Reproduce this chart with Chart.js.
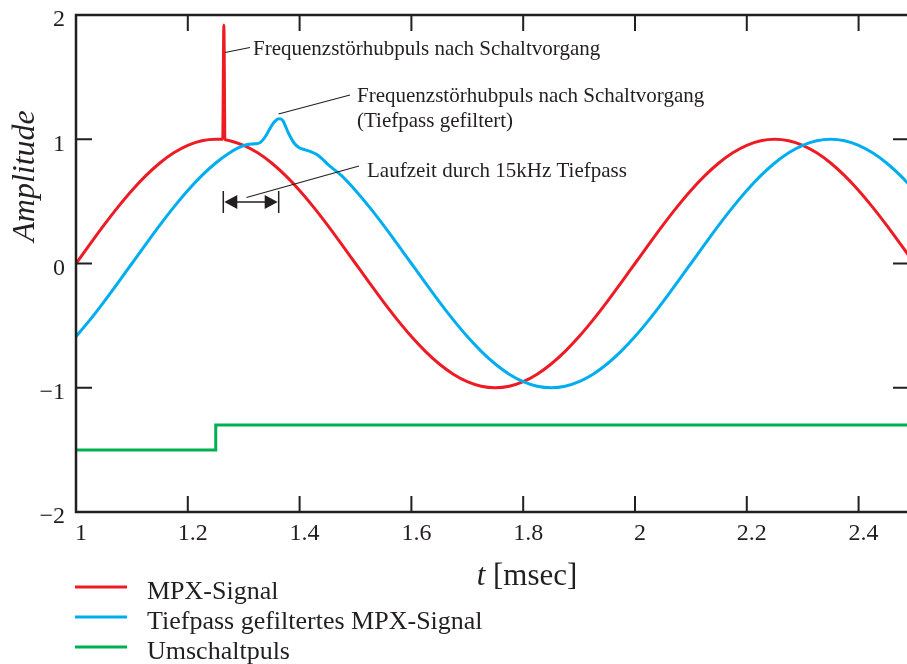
<!DOCTYPE html>
<html>
<head>
<meta charset="utf-8">
<script src="https://cdn.jsdelivr.net/npm/chart.js@4.4.1/dist/chart.umd.min.js"></script>
<style>
  html, body { margin: 0; padding: 0; background: #ffffff; }
  canvas { display: block; }
</style>
</head>
<body>
<canvas id="c" width="907" height="664"></canvas>
<script>
// ---------- data ----------
const seriesLabels = ['MPX-Signal', 'Tiefpass gefiltertes MPX-Signal', 'Umschaltpuls'];

const redT = [1.000,1.025,1.050,1.075,1.100,1.125,1.150,1.175,1.200,1.225,1.250,1.260,1.2625,1.2645,1.2665,1.269,1.275,
  1.300,1.325,1.350,1.375,1.400,1.425,1.450,1.475,1.500,1.525,1.550,1.575,1.600,1.625,1.650,1.675,1.700,1.725,1.750,
  1.775,1.800,1.825,1.850,1.875,1.900,1.925,1.950,1.975,2.000,2.025,2.050,2.075,2.100,2.125,2.150,2.175,2.200,2.225,
  2.250,2.275,2.300,2.325,2.350,2.375,2.400,2.425,2.450,2.475,2.500];
const redY = [0.000,0.156,0.309,0.454,0.588,0.707,0.809,0.891,0.951,0.988,1.000,0.999,1.000,1.920,1.000,0.993,0.988,
  0.951,0.891,0.809,0.707,0.588,0.454,0.309,0.156,0.000,-0.156,-0.309,-0.454,-0.588,-0.707,-0.809,-0.891,-0.951,-0.988,-1.000,
  -0.988,-0.951,-0.891,-0.809,-0.707,-0.588,-0.454,-0.309,-0.156,0.000,0.156,0.309,0.454,0.588,0.707,0.809,0.891,0.951,0.988,
  1.000,0.988,0.951,0.891,0.809,0.707,0.588,0.454,0.309,0.156,0.000];

const blueT = [1.000,1.025,1.050,1.075,1.100,1.125,1.150,1.175,1.200,1.225,1.250,1.275,1.290,1.300,1.310,1.320,1.330,
  1.340,1.350,1.360,1.365,1.370,1.380,1.390,1.400,1.410,1.420,1.430,1.440,1.450,1.475,1.500,1.525,1.550,1.575,1.600,
  1.625,1.650,1.675,1.700,1.725,1.750,1.775,1.800,1.825,1.850,1.875,1.900,1.925,1.950,1.975,2.000,2.025,2.050,2.075,
  2.100,2.125,2.150,2.175,2.200,2.225,2.250,2.275,2.300,2.325,2.350,2.375,2.400,2.425,2.450,2.475,2.500];
const blueY = [-0.588,-0.454,-0.309,-0.156,0.000,0.156,0.309,0.454,0.588,0.707,0.809,0.891,0.930,0.950,0.960,0.963,0.975,
  1.030,1.110,1.160,1.165,1.150,1.050,0.970,0.930,0.915,0.900,0.880,0.845,0.800,0.707,0.588,0.454,0.309,0.156,0.000,
  -0.156,-0.309,-0.454,-0.588,-0.707,-0.809,-0.891,-0.951,-0.988,-1.000,-0.988,-0.951,-0.891,-0.809,-0.707,-0.588,-0.454,-0.309,-0.156,
  0.000,0.156,0.309,0.454,0.588,0.707,0.809,0.891,0.951,0.988,1.000,0.988,0.951,0.891,0.809,0.707,0.588];

const greenT = [1.000,1.250,1.250,2.500];
const greenY = [-1.5,-1.5,-1.3,-1.3];

const xTickValues = [1,1.2,1.4,1.6,1.8,2,2.2,2.4];
const xTickLabels = ['1','1.2','1.4','1.6','1.8','2','2.2','2.4'];
const yTickValues = [-2,-1,0,1,2];
const yTickLabels = ['\u22122','\u22121','0','1','2'];

const annotationTexts = [
  'Frequenzst\u00f6rhubpuls nach Schaltvorgang',
  'Frequenzst\u00f6rhubpuls nach Schaltvorgang',
  '(Tiefpass gefiltert)',
  'Laufzeit durch 15kHz Tiefpass'
];
const xTitleItalic = 't';
const xTitleRest = ' [msec]';
const yTitle = 'Amplitude';

// ---------- helpers ----------
const pts = (t, v) => t.map((x, i) => ({ x: x, y: v[i] }));
const SERIF = "'Liberation Serif', 'Times New Roman', serif";
const INK = '#231F20';

const framePlugin = {
  id: 'frameAndNotes',
  afterDatasetsDraw(chart) {
    const { ctx, chartArea: a, scales: { x, y } } = chart;
    ctx.save();
    // frame
    ctx.strokeStyle = INK;
    ctx.lineWidth = 2.5;
    ctx.lineCap = 'butt';
    ctx.beginPath();
    ctx.moveTo(a.right + 4, a.top);
    ctx.lineTo(a.left, a.top);
    ctx.lineTo(a.left, a.bottom);
    ctx.lineTo(a.right + 4, a.bottom);
    ctx.stroke();
    // inward ticks
    ctx.lineWidth = 2;
    const tl = 16;
    xTickValues.forEach(v => {
      const px = x.getPixelForValue(v);
      if (px <= a.left + 1) return;
      ctx.beginPath();
      ctx.moveTo(px, a.top); ctx.lineTo(px, a.top + tl);
      ctx.moveTo(px, a.bottom); ctx.lineTo(px, a.bottom - tl);
      ctx.stroke();
    });
    yTickValues.forEach(v => {
      const py = y.getPixelForValue(v);
      if (py <= a.top + 1 || py >= a.bottom - 1) return;
      ctx.beginPath();
      ctx.moveTo(a.left, py); ctx.lineTo(a.left + tl, py);
      ctx.moveTo(a.right + 2, py); ctx.lineTo(a.right + 2 - tl, py);
      ctx.stroke();
    });

    // axis titles
    ctx.fillStyle = INK;
    ctx.textBaseline = 'alphabetic';
    ctx.save();
    ctx.translate(34, 176);
    ctx.rotate(-Math.PI / 2);
    ctx.font = 'italic 32px ' + SERIF;
    ctx.textAlign = 'center';
    ctx.fillText(yTitle, 0, 0);
    ctx.restore();
    ctx.font = 'italic 31px ' + SERIF;
    const w1 = ctx.measureText(xTitleItalic).width;
    ctx.font = '31px ' + SERIF;
    const w2 = ctx.measureText(xTitleRest).width;
    let sx = 527 - (w1 + w2) / 2;
    ctx.textAlign = 'left';
    ctx.font = 'italic 31px ' + SERIF;
    ctx.fillText(xTitleItalic, sx, 585);
    ctx.font = '31px ' + SERIF;
    ctx.fillText(xTitleRest, sx + w1, 585);

    // annotations
    ctx.font = '21px ' + SERIF;
    ctx.fillText(annotationTexts[0], 253, 55);
    ctx.fillText(annotationTexts[1], 357, 102);
    ctx.fillText(annotationTexts[2], 357, 127);
    ctx.fillText(annotationTexts[3], 367, 177);

    ctx.lineWidth = 1.2;
    ctx.strokeStyle = INK;
    ctx.beginPath();
    ctx.moveTo(225, 52.5); ctx.lineTo(250, 47.5);
    ctx.moveTo(278.5, 114); ctx.lineTo(350, 95);
    ctx.moveTo(246.5, 197.5); ctx.lineTo(359, 166);
    ctx.stroke();

    // double arrow (propagation delay)
    const xa = x.getPixelForValue(1.2635), xb = x.getPixelForValue(1.3626);
    const ya = 202;
    ctx.lineWidth = 1.5;
    ctx.beginPath();
    ctx.moveTo(xa, 191); ctx.lineTo(xa, 213);
    ctx.moveTo(xb, 191); ctx.lineTo(xb, 213);
    ctx.moveTo(xa + 8, ya); ctx.lineTo(xb - 8, ya);
    ctx.stroke();
    ctx.beginPath();
    ctx.moveTo(xa + 1, ya); ctx.lineTo(xa + 14, ya - 7); ctx.lineTo(xa + 14, ya + 7); ctx.closePath();
    ctx.moveTo(xb - 1, ya); ctx.lineTo(xb - 14, ya - 7); ctx.lineTo(xb - 14, ya + 7); ctx.closePath();
    ctx.fill();

    // legend
    const ds = chart.data.datasets;
    ds.forEach((d, i) => {
      const ly = 587 + i * 30;
      ctx.strokeStyle = d.borderColor;
      ctx.lineWidth = 3;
      ctx.beginPath();
      ctx.moveTo(75, ly); ctx.lineTo(127, ly);
      ctx.stroke();
      ctx.fillStyle = INK;
      ctx.font = '26px ' + SERIF;
      ctx.textAlign = 'left';
      ctx.fillText(d.label, 147, ly + 12);
    });
    ctx.restore();
  }
};

new Chart(document.getElementById('c'), {
  type: 'line',
  data: {
    datasets: [
      { label: seriesLabels[0], data: pts(redT, redY), borderColor: '#ED1C24', borderWidth: 3,
        pointRadius: 0, cubicInterpolationMode: 'monotone', borderJoinStyle: 'round', order: 2 },
      { label: seriesLabels[1], data: pts(blueT, blueY), borderColor: '#00AEEF', borderWidth: 3,
        pointRadius: 0, cubicInterpolationMode: 'monotone', borderJoinStyle: 'round', order: 1 },
      { label: seriesLabels[2], data: pts(greenT, greenY), borderColor: '#00B050', borderWidth: 3,
        pointRadius: 0, tension: 0, borderJoinStyle: 'miter', order: 3 }
    ]
  },
  options: {
    responsive: false,
    animation: false,
    devicePixelRatio: 1,
    layout: { padding: { top: 15, left: 0, right: 0, bottom: 0 } },
    plugins: { legend: { display: false }, tooltip: { enabled: false } },
    scales: {
      x: {
        type: 'linear', min: 1, max: 2.4866,
        grid: { display: false, drawTicks: false }, border: { display: false },
        afterBuildTicks: s => { s.ticks = xTickValues.map(v => ({ value: v })); },
        afterFit: s => { s.height = 152; s.paddingLeft = 0; s.paddingRight = 0; },
        ticks: {
          autoSkip: false, maxRotation: 0, padding: 7, labelOffset: 5, color: INK,
          font: { family: SERIF, size: 24 },
          callback: (v) => { const i = xTickValues.indexOf(v); return i >= 0 ? xTickLabels[i] : ''; }
        }
      },
      y: {
        type: 'linear', min: -2, max: 2,
        grid: { display: false, drawTicks: false }, border: { display: false },
        afterBuildTicks: s => { s.ticks = yTickValues.map(v => ({ value: v })); },
        afterFit: s => { s.width = 76; s.paddingTop = 0; s.paddingBottom = 0; },
        ticks: {
          autoSkip: false, padding: 11, labelOffset: 5, color: INK,
          font: { family: SERIF, size: 24 },
          callback: (v) => { const i = yTickValues.indexOf(v); return i >= 0 ? yTickLabels[i] : ''; }
        }
      }
    }
  },
  plugins: [framePlugin]
});
</script>
</body>
</html>
